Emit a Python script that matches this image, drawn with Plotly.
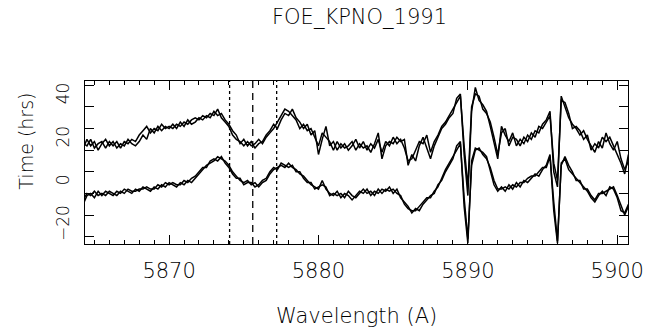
import numpy as np
import plotly.graph_objects as go

# wavelength grid (A)
wl_start, wl_step, n_pts = 5864.25, 0.25, 147
wavelength = [wl_start + wl_step * i for i in range(n_pts)]

upper_a = [
    21, 25, 22, 24, 20, 23, 25, 22,
    24, 21, 23, 22, 25, 23, 22, 24,
    27, 25, 30, 28, 31, 29, 31, 30,
    32, 30, 33, 31, 34, 32, 33, 35,
    34, 36, 35, 38, 36, 37, 34, 32,
    29, 27, 23, 25, 22, 24, 21, 23,
    24, 27, 29, 32, 30, 34, 37, 36,
    39, 35, 33, 30, 32, 27, 29, 18,
    25, 31, 22, 24, 20, 23, 21, 22,
    24, 20, 23, 21, 22, 19, 23, 28,
    16, 22, 24, 23, 26, 24, 25, 13,
    18, 15, 22, 26, 21, 16, 22, 26,
    30, 32, 35, 37, 44, 46, 18, -1,
    38, 49, 43, 41, 38, 31, 23, 16,
    31, 27, 24, 28, 22, 25, 23, 27,
    25, 29, 28, 32, 34, 38, 10, 3,
    45, 40, 35, 32, 30, 27, 29, 25,
    22, 19, 24, 21, 28, 23, 20, 24,
    16, 11, 15,
]
upper_b = [
    23, 22, 25, 21, 23, 24, 21, 24,
    22, 24, 21, 24, 23, 25, 24, 27,
    29, 31, 28, 30, 29, 32, 30, 31,
    30, 32, 31, 33, 32, 34, 35, 34,
    36, 35, 37, 36, 39, 35, 33, 31,
    27, 25, 24, 22, 24, 22, 23, 25,
    23, 26, 28, 30, 33, 36, 39, 38,
    36, 34, 30, 32, 29, 30, 26, 22,
    28, 26, 24, 20, 24, 21, 23, 20,
    22, 25, 21, 24, 20, 23, 21, 25,
    19, 24, 22, 26, 23, 25, 21, 15,
    16, 20, 24, 23, 27, 19, 24, 27,
    31, 33, 36, 39, 42, 45, 22, 3,
    40, 46, 45, 39, 37, 33, 26, 18,
    28, 30, 22, 26, 25, 22, 26, 24,
    28, 26, 31, 30, 33, 36, 14, 6,
    43, 42, 37, 30, 31, 29, 25, 27,
    20, 23, 21, 26, 24, 26, 22, 18,
    14, 9, 18,
]
lower_a = [
    -5, -1, 0, -2, 1, -1, 1, 0,
    -1, 1, 0, 2, 1, 0, 2, 1,
    3, 2, 1, 3, 2, 4, 3, 5,
    4, 3, 5, 4, 6, 5, 7, 9,
    11, 13, 14, 15, 17, 16, 15, 13,
    10, 8, 6, 5, 6, 4, 5, 3,
    5, 6, 9, 11, 12, 13, 12, 14,
    12, 11, 9, 8, 6, 4, 3, 2,
    6, 2, 0, -1, 1, -2, 0, -1,
    -3, -1, 1, 0, 2, -1, 1, 0,
    2, 1, 3, 0, 2, -2, -4, -6,
    -9, -7, -8, -5, -3, -1, 0, 4,
    6, 10, 13, 16, 22, 24, -6, -23,
    15, 21, 20, 19, 17, 10, 4, 1,
    3, 1, 4, 2, 5, 3, 6, 5,
    7, 9, 8, 11, 13, 18, -8, -23,
    14, 16, 11, 9, 7, 5, 3, 1,
    -2, -4, -1, 1, -1, 3, 2, -2,
    -8, -9, -5,
]
lower_b = [
    -3, 0, -1, 1, -1, 0, -1, 1,
    0, -1, 1, 0, 2, 1, 1, 2,
    2, 3, 2, 2, 4, 3, 5, 4,
    5, 4, 4, 6, 5, 7, 8, 10,
    12, 12, 15, 16, 15, 17, 14, 12,
    9, 7, 7, 4, 5, 5, 3, 4,
    6, 7, 10, 12, 11, 14, 13, 12,
    13, 10, 10, 7, 5, 5, 2, 3,
    4, 3, -1, 0, -1, 0, -2, 1,
    -1, -2, 0, 2, 0, 1, -1, 2,
    0, 2, 1, 2, 0, -1, -5, -7,
    -8, -8, -6, -4, -2, -2, 1, 3,
    7, 11, 14, 17, 20, 23, -2, -21,
    13, 20, 21, 18, 16, 12, 6, 2,
    2, 3, 2, 4, 3, 5, 5, 7,
    8, 8, 10, 12, 12, 17, -4, -22,
    13, 17, 13, 10, 6, 6, 2, 2,
    -1, -3, 0, 0, 1, 2, 3, -1,
    -6, -10, -6,
]

marker_lines = [5874.05, 5875.6, 5877.2]
marker_styles = ["dot", "7px,5px", "dot"]

x_ticks = [5870, 5880, 5890, 5900]
y_ticks = [-20, 0, 20, 40]

FONT = "DejaVu Sans"

fig = go.Figure()
for ys in (upper_a, upper_b, lower_a, lower_b):
    fig.add_trace(go.Scatter(x=wavelength, y=ys, mode="lines",
                             line=dict(color="black", width=1.5),
                             showlegend=False, hoverinfo="skip"))

for xv, ds in zip(marker_lines, marker_styles):
    fig.add_shape(type="line", xref="x", yref="paper", x0=xv, x1=xv, y0=0, y1=1,
                  line=dict(color="black", width=1.3, dash=ds))

fig.update_layout(
    width=656, height=333,
    margin=dict(l=85, r=22, t=81, b=89),
    paper_bgcolor="white", plot_bgcolor="white",
    font=dict(family=FONT, color="black"),
    title=dict(text="FOE_KPNO_1991", x=(85 + 634) / 2 / 656, xanchor="center",
               y=1 - 17 / 333, yanchor="middle",
               font=dict(family=FONT, size=21, weight=300, color="black")),
)
fig.update_xaxes(
    range=[5864.37, 5900.72], showline=True, linecolor="black", linewidth=1.3,
    mirror="ticks", ticks="inside", ticklen=9, tickwidth=1.2, tickcolor="black",
    tickvals=x_ticks, ticktext=[str(v) for v in x_ticks],
    tickfont=dict(family=FONT, size=21, weight=300, color="black"),
    ticklabelstandoff=8,
    minor=dict(dtick=1, tick0=5870, ticks="inside", ticklen=4, tickwidth=1.1,
               tickcolor="black"),
    showgrid=False, zeroline=False,
)
fig.update_yaxes(
    range=[-23.4, 52], showline=True, linecolor="black", linewidth=1.3,
    mirror="ticks", ticks="inside", ticklen=9, tickwidth=1.2, tickcolor="black",
    tickvals=y_ticks, ticktext=[("\u2212" + str(-v)) if v < 0 else str(v) for v in y_ticks],
    tickangle=-90, ticklabelshift=-11, ticklabelstandoff=8,
    tickfont=dict(family=FONT, size=17, weight=300, color="black"),
    minor=dict(dtick=10, tick0=0, ticks="inside", ticklen=9, tickwidth=1.2,
               tickcolor="black"),
    showgrid=False, zeroline=False,
)
fig.add_annotation(text="Wavelength (A)", xref="paper", yref="paper",
                   x=0.5, y=-(316 - 244) / 163, xanchor="center", yanchor="middle",
                   showarrow=False,
                   font=dict(family=FONT, size=21, weight=300, color="black"))
fig.add_annotation(text="Time (hrs)", xref="paper", yref="paper",
                   x=(25 - 85) / 549, y=(244 - 141) / 163, xanchor="center",
                   yanchor="middle", textangle=-90, showarrow=False,
                   font=dict(family=FONT, size=19, weight=300, color="black"))

fig.write_html("out.html")
